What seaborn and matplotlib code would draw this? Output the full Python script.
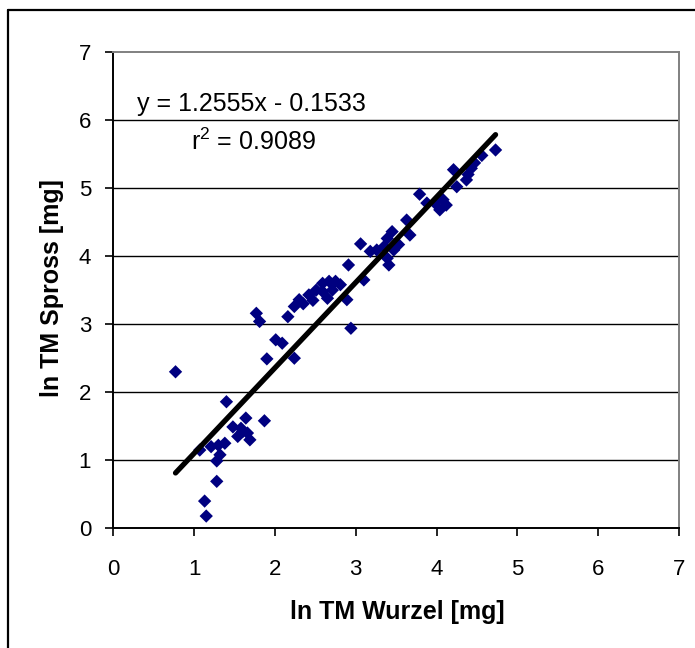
import matplotlib
matplotlib.use("Agg")
import matplotlib.pyplot as plt
import seaborn as sns
import numpy as np
import pandas as pd
from matplotlib.lines import Line2D

# ---- data ----
wurzel = [0.77, 1.07, 1.15, 1.13, 1.28, 1.28, 1.21, 1.30, 1.38, 1.32,
          1.40, 1.48, 1.58, 1.54, 1.66, 1.69, 1.64, 1.87, 1.77, 1.81,
          1.90, 2.01, 2.09, 2.24, 2.16, 2.24, 2.30, 2.42, 2.51, 2.59,
          2.67, 2.75, 2.81, 2.65, 2.59, 2.71, 2.94, 2.89, 2.91, 3.06,
          3.10, 3.18, 3.26, 3.35, 3.39, 3.41, 3.45, 3.39, 3.53, 3.47,
          3.63, 3.67, 3.79, 3.88, 3.98, 4.08, 4.12, 4.04, 4.21, 4.25,
          4.37, 4.39, 4.43, 4.47, 4.56, 4.73, 2.35, 2.47, 1.60]
spross = [2.30, 1.15, 0.18, 0.40, 0.69, 0.99, 1.20, 1.22, 1.25, 1.08,
          1.86, 1.49, 1.47, 1.35, 1.40, 1.30, 1.62, 1.58, 3.16, 3.04,
          2.49, 2.77, 2.72, 2.50, 3.11, 3.26, 3.36, 3.43, 3.50, 3.60,
          3.63, 3.63, 3.58, 3.38, 3.48, 3.50, 2.94, 3.36, 3.87, 4.18,
          3.65, 4.07, 4.09, 4.14, 3.97, 3.87, 4.36, 4.26, 4.17, 4.09,
          4.53, 4.31, 4.91, 4.78, 4.78, 4.83, 4.75, 4.68, 5.27, 5.02,
          5.12, 5.20, 5.29, 5.37, 5.48, 5.56, 3.30, 3.35, 1.42]
slope = 1.2555
intercept = -0.1533
r2 = 0.9089
ticks = [0, 1, 2, 3, 4, 5, 6, 7]

df = pd.DataFrame({"wurzel": wurzel, "spross": spross})

sns.set_theme(style="white")
plt.rcParams["font.family"] = ["Liberation Sans", "DejaVu Sans"]

W, H = 695, 648
L, R, T, B = 113.3, 679, 52, 528.3
fig = plt.figure(figsize=(W / 100, H / 100), dpi=100)
ax = fig.add_axes([L / W, 1 - B / H, (R - L) / W, (B - T) / H])

# outer chart border (only left and top edges visible in the reference)
fig.add_artist(Line2D([8 / W, 8 / W], [0, 1 - 10 / H], transform=fig.transFigure,
                      color="black", linewidth=1.6))
fig.add_artist(Line2D([8 / W, 1], [1 - 10 / H, 1 - 10 / H], transform=fig.transFigure,
                      color="black", linewidth=1.6))

# gridlines
for t in ticks[1:-1]:
    ax.axhline(t, color="black", linewidth=1.0, zorder=1)

sns.scatterplot(data=df, x="wurzel", y="spross", marker="D", s=46,
                color="#000080", edgecolor="none", linewidth=0, ax=ax, zorder=3)

xl = np.array([min(wurzel), max(wurzel)])
ax.plot(xl, slope * xl + intercept, color="black", linewidth=3.8,
        solid_capstyle="round", zorder=4)

ax.set_xlim(0, 7)
ax.set_ylim(0, 7)
ax.set_xticks(ticks)
ax.set_yticks(ticks)
ax.tick_params(axis="both", labelsize=16, colors="black", length=6, width=1.2,
               direction="out")
ax.tick_params(axis="x", pad=16)
ax.tick_params(axis="y", pad=10)
ax.xaxis.set_ticks_position("bottom")
ax.yaxis.set_ticks_position("left")

for side in ["left", "bottom"]:
    ax.spines[side].set_color("black")
    ax.spines[side].set_linewidth(1.4)
for side in ["top", "right"]:
    ax.spines[side].set_color("#808080")
    ax.spines[side].set_linewidth(1.4)

ax.set_xlabel("ln TM Wurzel [mg]", fontsize=18, fontweight="bold", color="black")
ax.set_ylabel("ln TM Spross [mg]", fontsize=18, fontweight="bold", color="black")
ax.xaxis.label.set_va("center")
ax.yaxis.label.set_va("center")
ax.xaxis.set_label_coords((397 - L) / (R - L), (B - 612) / (B - T))
ax.yaxis.set_label_coords((52 - L) / (R - L), (B - 288.5) / (B - T))

ax.text((137 - L) / (R - L), (B - 104) / (B - T), f"y = {slope:.4f}x - {abs(intercept):.4f}",
        transform=ax.transAxes, fontsize=18, va="center", ha="left", color="black")
ax.text((191 - L) / (R - L), (B - 142) / (B - T), f"r$^{{\\mathregular{{2}}}}$ = {r2:.4f}",
        transform=ax.transAxes, fontsize=18, va="center", ha="left", color="black")

fig.savefig("out.png", dpi=100, facecolor="white")
